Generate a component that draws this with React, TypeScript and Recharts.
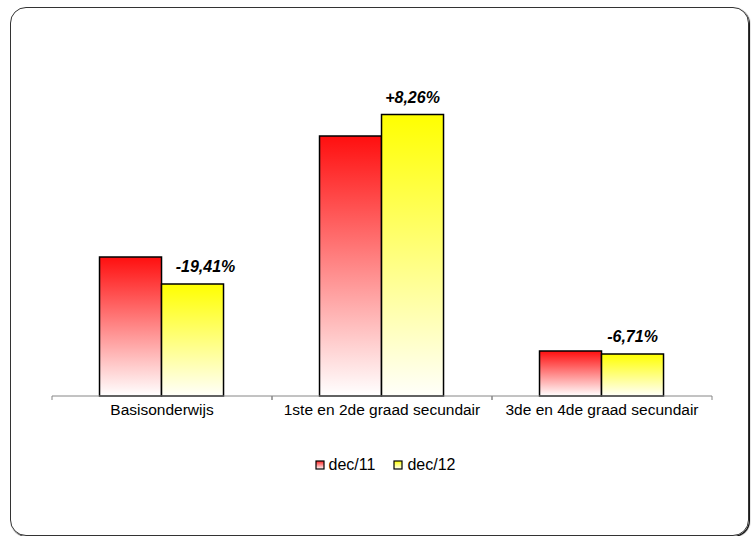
import React from 'react';
import { BarChart, Bar, XAxis, YAxis, LabelList } from 'recharts';

const categories = ['Basisonderwijs', '1ste en 2de graad secundair', '3de en 4de graad secundair'];
const dec11 = [1390, 2600, 450];
const dec12 = [1120, 2815, 420];
const changeLabels = ['-19,41%', '+8,26%', '-6,71%'];
const seriesNames = ['dec/11', 'dec/12'];

const data = categories.map((name, i) => ({
  name,
  dec11: dec11[i],
  dec12: dec12[i],
  change: changeLabels[i],
}));

const FONT = '"Liberation Sans", Arial, sans-serif';
const MARGIN = { top: 96, right: 40, left: 52, bottom: 110 };
const CHART_W = 752;
const CHART_H = 536;
const BAND = (CHART_W - MARGIN.left - MARGIN.right) / categories.length;

// category label plus the small tick marks that sit between the categories
const CategoryTick = ({ x, y, payload }: any) => (
  <g>
    <line x1={x - BAND / 2} y1={y - 8} x2={x - BAND / 2} y2={y - 4} stroke="#868686" />
    <line x1={x + BAND / 2} y1={y - 8} x2={x + BAND / 2} y2={y - 4} stroke="#868686" />
    <text x={x} y={y + 11} textAnchor="middle" fontFamily={FONT} fontSize={15.5} fill="#000">
      {payload.value}
    </text>
  </g>
);

const ChangeLabel = ({ x, y, width, index }: any) => {
  const shift = index === 0 ? 13 : 0;
  return (
    <text
      x={x + width / 2 + shift}
      y={y - 12}
      textAnchor="middle"
      fontFamily={FONT}
      fontSize={16}
      fontWeight="bold"
      fontStyle="italic"
      fill="#000"
    >
      {changeLabels[index]}
    </text>
  );
};

const swatchColors = ['#ff2020', '#ffff00'];

const LegendBox = () => (
  <div
    style={{
      position: 'absolute',
      top: 456,
      left: 0,
      width: 770,
      display: 'flex',
      justifyContent: 'center',
      fontFamily: FONT,
      fontSize: 16,
      color: '#000',
    }}
  >
    {seriesNames.map((s, i) => (
      <span key={s} style={{ display: 'inline-flex', alignItems: 'center', marginRight: i === 0 ? 18 : 0 }}>
        <svg width={11} height={11} style={{ marginRight: 3 }}>
          <defs>
            <linearGradient id={`leg${i}`} x1="0" y1="0" x2="0" y2="1">
              <stop offset="0%" stopColor={swatchColors[i]} />
              <stop offset="100%" stopColor="#ffffff" />
            </linearGradient>
          </defs>
          <rect x={1} y={1} width={8} height={8} fill={`url(#leg${i})`} stroke="#000" strokeWidth={1.2} />
        </svg>
        {s}
      </span>
    ))}
  </div>
);

export default function App() {
  return (
    <div style={{ position: 'absolute', left: 0, top: 0, width: CHART_W, height: CHART_H, background: '#fff', overflow: 'hidden' }}>
      <div
        style={{
          position: 'absolute',
          left: 10,
          top: 7,
          width: 737,
          height: 527,
          border: '1px solid #333',
          borderRadius: 16,
          boxShadow: '1px 1px 1px #000',
        }}
      />
      <div style={{ position: 'absolute', left: 0, top: 0 }}>
        <BarChart
          width={CHART_W}
          height={CHART_H}
          data={data}
          margin={MARGIN}
          barCategoryGap="21.6%"
          barGap={0}
        >
          <defs>
            <linearGradient id="redGrad" x1="0" y1="0" x2="0" y2="1">
              <stop offset="0%" stopColor="#ff0f0f" />
              <stop offset="100%" stopColor="#ffffff" />
            </linearGradient>
            <linearGradient id="yellowGrad" x1="0" y1="0" x2="0" y2="1">
              <stop offset="0%" stopColor="#ffff00" />
              <stop offset="100%" stopColor="#fffffa" />
            </linearGradient>
          </defs>
          <XAxis
            dataKey="name"
            axisLine={{ stroke: '#868686' }}
            tickLine={false}
            tick={<CategoryTick />}
            interval={0}
          />
          <YAxis hide domain={[0, 3000]} />
          <Bar dataKey="dec11" name="dec/11" fill="url(#redGrad)" stroke="#000" strokeWidth={1.5} isAnimationActive={false} />
          <Bar dataKey="dec12" name="dec/12" fill="url(#yellowGrad)" stroke="#000" strokeWidth={1.5} isAnimationActive={false}>
            <LabelList dataKey="change" content={<ChangeLabel />} />
          </Bar>
        </BarChart>
      </div>
      <LegendBox />
    </div>
  );
}
